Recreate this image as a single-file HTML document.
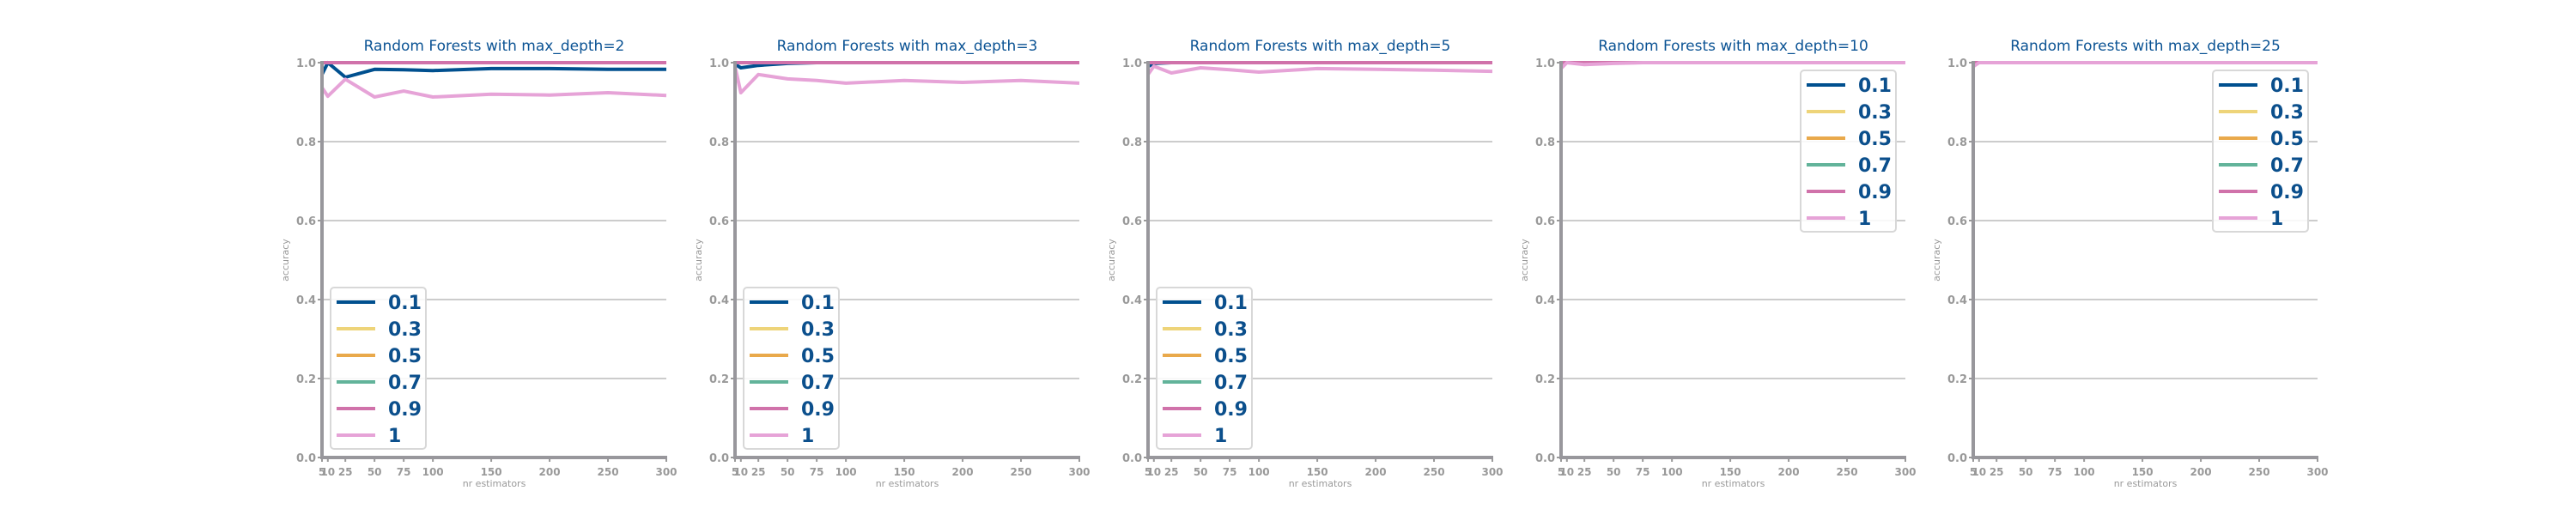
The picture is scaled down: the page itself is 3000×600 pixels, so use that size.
<!DOCTYPE html>
<html><head><meta charset="utf-8"><style>
html,body{margin:0;padding:0;background:#fff;width:3000px;height:600px;overflow:hidden}
svg{display:block}
</style></head><body>
<svg id="chart" width="3000" height="600" xmlns="http://www.w3.org/2000/svg"></svg>
<script>
const depths = [2, 3, 5, 10, 25];
const estimators = [5, 10, 25, 50, 75, 100, 150, 200, 250, 300];
const seriesNames = ["0.1", "0.3", "0.5", "0.7", "0.9", "1"];
const seriesColors = ["#00508f", "#eed479", "#e9a94b", "#62b39a", "#d072aa", "#e6a3d7"];
const xTicks = [5, 10, 25, 50, 75, 100, 150, 200, 250, 300];
const yTicks = [0.0, 0.2, 0.4, 0.6, 0.8, 1.0];
const ones = [1, 1, 1, 1, 1, 1, 1, 1, 1, 1];
const d2_blue = [0.97, 1.0, 0.963, 0.983, 0.982, 0.980, 0.985, 0.985, 0.983, 0.983];
const d2_pink = [0.937, 0.915, 0.958, 0.913, 0.928, 0.913, 0.920, 0.918, 0.924, 0.917];
const d3_blue = [0.996, 0.987, 0.993, 0.998, 1, 1, 1, 1, 1, 1];
const d3_pink = [0.99, 0.924, 0.97, 0.959, 0.955, 0.948, 0.955, 0.95, 0.955, 0.948];
const d5_blue = [0.99, 0.998, 1, 1, 1, 1, 1, 1, 1, 1];
const d5_pink = [0.97, 0.991, 0.974, 0.987, 0.982, 0.976, 0.985, 0.983, 0.981, 0.978];
const d10_pink = [0.985, 1.0, 0.995, 0.998, 1, 1, 1, 1, 1, 1];
const d25_pink = [0.99, 1.0, 1, 1, 1, 1, 1, 1, 1, 1];
const panelSeries = [
  [d2_blue, ones, ones, ones, ones, d2_pink],
  [d3_blue, ones, ones, ones, ones, d3_pink],
  [d5_blue, ones, ones, ones, ones, d5_pink],
  [ones, ones, ones, ones, ones, d10_pink],
  [ones, ones, ones, ones, ones, d25_pink]
];
const legendRight = [false, false, false, true, true];

const NS = "http://www.w3.org/2000/svg";
const svg = document.getElementById("chart");
function mk(tag, attrs, parent) {
  const e = document.createElementNS(NS, tag);
  for (const k in attrs) e.setAttribute(k, attrs[k]);
  (parent || svg).appendChild(e);
  return e;
}
const W = 401, TOP = 73, BOT = 533;
const lefts = [375, 856, 1337, 1818, 2298];

depths.forEach((d, p) => {
  const L = lefts[p];
  const g = mk("g", {});
  
  
  const xs = v => L + (v - 5) / 295 * W;
  const ys = v => BOT - v * (BOT - TOP);
  yTicks.forEach(t => {
    if (t > 0) {
      const gl = mk("line", {x1: L, x2: L + W, y1: ys(t), y2: ys(t), stroke: "#cccccc", "stroke-width": 2}, g);
      
      
    }
    const tk = mk("line", {x1: L - 5, x2: L, y1: ys(t), y2: ys(t), stroke: "#999", "stroke-width": 2}, g);
    
    
    const tl = mk("text", {x: L - 7, y: ys(t) + 5, "text-anchor": "end", "font-size": 13, "font-weight": "bold", fill: "#999", "font-family": "DejaVu Sans, Liberation Sans, sans-serif"}, g);
    tl.textContent = t.toFixed(1);
    
    
  });
  xTicks.forEach(t => {
    const tk = mk("line", {x1: xs(t), x2: xs(t), y1: BOT, y2: BOT + 5, stroke: "#999", "stroke-width": 2}, g);
    
    
    const tl = mk("text", {x: xs(t), y: BOT + 21, "text-anchor": "middle", "font-size": 12, "font-weight": "bold", fill: "#999", "font-family": "DejaVu Sans, Liberation Sans, sans-serif"}, g);
    tl.textContent = t;
    
    
  });
  panelSeries[p].forEach((vals, si) => {
    const pts = vals.map((v, i) => xs(estimators[i]).toFixed(1) + "," + ys(v).toFixed(1)).join(" ");
    const pl = mk("polyline", {points: pts, fill: "none", stroke: seriesColors[si], "stroke-width": 4, "stroke-linejoin": "round"}, g);
    
    
  });
  const sl = mk("line", {x1: L, x2: L, y1: TOP - 2, y2: BOT + 2, stroke: "#98979c", "stroke-width": 4}, g);
  
  
  const sb = mk("line", {x1: L - 2, x2: L + W + 1, y1: BOT, y2: BOT, stroke: "#98979c", "stroke-width": 4}, g);
  
  
  const tt = mk("text", {x: L + W / 2, y: 59, "text-anchor": "middle", "font-size": 17, fill: "#0b5394", "font-family": "DejaVu Sans, Liberation Sans, sans-serif"}, g);
  tt.textContent = "Random Forests with max_depth=" + d;
  
  
  const xl = mk("text", {x: L + W / 2, y: 567, "text-anchor": "middle", "font-size": 11, fill: "#999", "font-family": "DejaVu Sans, Liberation Sans, sans-serif"}, g);
  xl.textContent = "nr estimators";
  
  
  const yl = mk("text", {x: 0, y: 0, "text-anchor": "middle", "font-size": 11, fill: "#999", "font-family": "DejaVu Sans, Liberation Sans, sans-serif", transform: "translate(" + (L - 39) + "," + ((TOP + BOT) / 2) + ") rotate(-90)"}, g);
  yl.textContent = "accuracy";
  
  
  const lx = legendRight[p] ? L + W - 122 : L + 10;
  const ly = legendRight[p] ? 82 : 335;
  const lg = mk("g", {}, g);
  
  
  mk("rect", {x: lx, y: ly, width: 111, height: 188, rx: 4, fill: "rgba(255,255,255,0.85)", stroke: "#d8d8d8", "stroke-width": 2}, lg);
  seriesNames.forEach((n, si) => {
    const cy = ly + 17 + si * 31;
    const e = mk("g", {}, lg);
    
    
    mk("line", {x1: lx + 7, x2: lx + 52, y1: cy, y2: cy, stroke: seriesColors[si], "stroke-width": 4}, e);
    const t = mk("text", {x: lx + 67, y: cy + 8, "font-size": 22, "font-weight": "bold", fill: "#0b4f8c", "font-family": "DejaVu Sans, Liberation Sans, sans-serif"}, e);
    t.textContent = n;
  });
});
</script>
</body></html>
